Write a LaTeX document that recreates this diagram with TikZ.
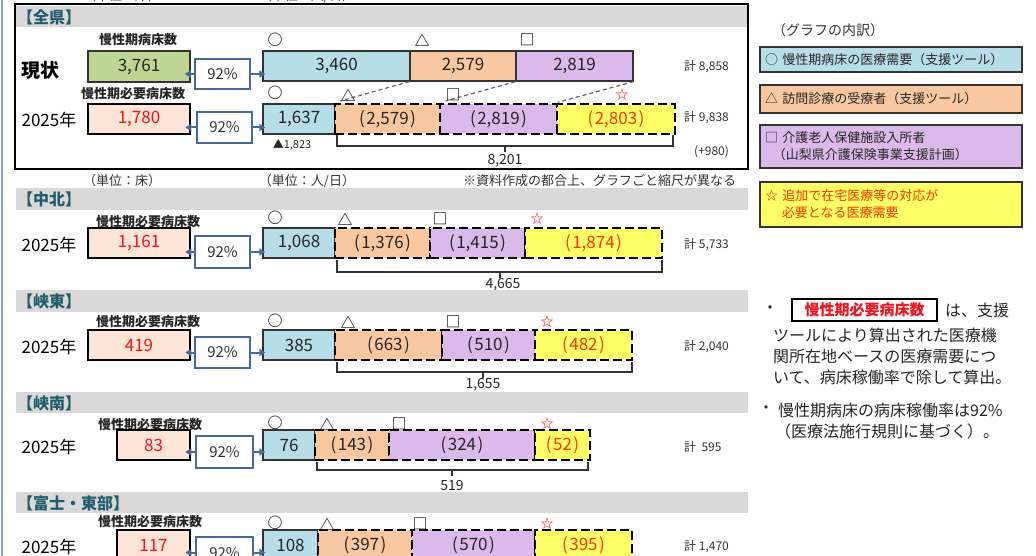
\documentclass[tikz,border=0pt]{standalone}
\usepackage{fontspec}
\setmainfont{Noto Sans CJK JP}
\usetikzlibrary{arrows.meta,calc}
\definecolor{cgreen}{HTML}{BFD592}
\definecolor{cblue}{HTML}{B7DDE8}
\definecolor{corange}{HTML}{FAC8A0}
\definecolor{cpurple}{HTML}{DBB9EA}
\definecolor{cyellow}{HTML}{FFFF66}
\definecolor{cpink}{HTML}{FCE4D6}
\definecolor{cband}{HTML}{D9D9D9}
\definecolor{cframe}{HTML}{44699C}
\definecolor{cteal}{HTML}{215E6B}
\definecolor{cred}{HTML}{F0141E}
\definecolor{cored}{HTML}{FF3300}
\definecolor{cedge}{HTML}{8FA3BF}
\newcommand\fsz[2][0]{\fontsize{#2}{#2}\selectfont}
\newcommand\bx[7]{%
 \pgfmathsetmacro\bxX{(#3+#5)/2}\pgfmathsetmacro\bxY{(#4+#6)/2}%
 \pgfmathsetmacro\bxW{#5-#3}\pgfmathsetmacro\bxH{#6-#4}%
 \node[inner sep=0pt, minimum width=\bxW pt, minimum height=\bxH pt, #2] (#1) at (\bxX,\bxY) {#7};}
\newcommand\brc[6]{\draw[brc] (#1,#3) -- (#1,#4) -- (#2,#4) -- (#2,#3); \draw[brc] (#5,#4) -- (#5,#6);}
\newcommand\pp[1]{(\kern1.5pt#1\kern1.5pt)}
\begin{document}
\begin{tikzpicture}[x=1pt,y=-1pt,
  every node/.style={inner sep=0pt},
  lab/.style={font=\fsz{13}\bfseries, text=black!85},
  num/.style={font=\fsz{17}, text=black!85},
  yr/.style={font=\fsz{17}, text=black},
  hdr/.style={font=\fsz{16}\bfseries, text=cteal, anchor=west},
  sym/.style={font=\fsz{15}\bfseries, text=black!85},
  star/.style={font=\fsz{13}, text=red},
  tot/.style={font=\fsz{12}, anchor=west, text=black!80},
  unit/.style={font=\fsz{13}, text=black!80},
  sbox/.style={draw=black!80, line width=1.3pt, num},
  dbox/.style={draw=black, line width=2.4pt, dash pattern=on 9pt off 4pt, num},
  kbox/.style={draw=black, line width=2.6pt, fill=cpink, font=\fsz{17}, text=cred},
  pbox/.style={draw=cframe, line width=1.8pt, fill=white, font=\fsz{15}, text=black!80},
  arr/.style={-{Triangle[length=6pt,width=7pt]}, draw=cframe, line width=2pt},
  brc/.style={draw=black!80, line width=1.4pt},
  dl/.style={draw=black!60, line width=1.2pt, dash pattern=on 4pt off 3pt, shorten >=7pt},
  lgd/.style={draw=black!80, line width=1.5pt, align=left, font=\fontsize{13}{17}\selectfont, inner xsep=5pt, text width=252pt, text=black!85},
  note/.style={font=\fsz{16}, anchor=west, text=black!85}]
\useasboundingbox (0,0) rectangle (1036,556);
\fill[white] (0,0) rectangle (1036,556);
\draw[cedge, line width=2.5pt] (2,0) -- (2,556);
% top clipped units
\node[unit] (u0) at (122,-4) {（単位：床）};
\node[unit] (u00) at (307,-4) {（単位：人/日）};
% ===== 全県 =====
\fill[cband] (16,6) rectangle (747,27);
\draw[line width=2.5pt] (15,4) rectangle (748,169);
\node[hdr] (h0) at (17,17) {【全県】};
\node[font=\fsz{19}\bfseries] (t0) at (40,70) {現状};
\node[yr] (t1) at (49,120) {2025年};
\node[lab] (l0) at (138,40) {慢性期病床数};
\node[lab] (l1) at (133,94) {慢性期必要病床数};
\bx{g1}{draw=black!80, line width=1.5pt, fill=cgreen, num}{88}{51}{190}{82}{3,761}
\bx{b1}{sbox, fill=cblue}{263}{51}{410}{81}{3,460}
\bx{o1}{sbox, fill=corange}{410}{51}{516}{81}{2,579}
\bx{u1}{sbox, fill=cpurple}{516}{51}{633}{81}{2,819}
\bx{p1}{pbox}{195}{59}{250}{89}{92\%}
\draw[arr, shorten >=-6pt] (p1.west) -- (g1.east |- p1.west);
\draw[arr, shorten >=-3pt] (p1.east) -- (b1.west |- p1.east);
\node[sym] (s1) at (275,40) {○};
\node[sym] (s2) at (422,40) {△};
\node[sym] (s3) at (527,40) {□};
\bx{k2}{kbox}{88}{104}{190}{134}{1,780}
\bx{b2}{sbox, fill=cblue}{263}{104}{335}{134}{1,637}
\bx{o2}{dbox, fill=corange}{335}{104}{440}{134}{\pp{2,579}}
\bx{u2}{dbox, fill=cpurple}{440}{104}{557}{134}{\pp{2,819}}
\bx{y2}{dbox, fill=cyellow, text=cored}{557}{104}{675}{134}{\pp{2,803}}
\bx{p2}{pbox}{197}{112}{252}{143}{92\%}
\draw[arr, shorten >=-6pt] (p2.west) -- (k2.east |- p2.west);
\draw[arr, shorten >=-3pt] (p2.east) -- (b2.west |- p2.east);
\draw[dl] (o1.south west) -- (o2.north west);
\draw[dl] (u1.south west) -- (u2.north west);
\draw[dl, shorten >=2pt] (u1.south east) -- (y2.north west);
\node[sym] (s4) at (275,93) {○};
\node[sym] (s5) at (348,95) {△};
\node[sym] (s6) at (453,95) {□};
\node[star] (s7) at (622,95) {☆};
\node[font=\fsz{11}, text=black!85] (tri) at (292,145) {▲1,823};
\brc{337}{673}{135}{146}{505}{152}
\node[font=\fsz{14}, text=black!85] (n1) at (505,161) {8,201};
\node[tot] (k1) at (684,67) {計 8,858};
\node[tot] (k2t) at (684,118) {計 9,838};
\node[tot] (k3) at (694,152) {(+980)};
\node[unit] (u1t) at (122,181) {（単位：床）};
\node[unit] (u2t) at (307,181) {（単位：人/日）};
\node[unit, anchor=west] (u3t) at (463,181) {※資料作成の都合上、グラフごと縮尺が異なる};
% ===== 中北 =====
\fill[cband] (16,188) rectangle (748,210);
\node[hdr] (h1) at (17,199) {【中北】};
\node[lab] (l2) at (148,222) {慢性期必要病床数};
\node[yr] (t2) at (49,245) {2025年};
\bx{k3b}{kbox}{88}{228}{190}{258}{1,161}
\bx{b3}{sbox, fill=cblue}{263}{228}{335}{258}{1,068}
\bx{o3}{dbox, fill=corange}{335}{228}{430}{258}{\pp{1,376}}
\bx{u3}{dbox, fill=cpurple}{430}{228}{525}{258}{\pp{1,415}}
\bx{y3}{dbox, fill=cyellow, text=cored}{525}{228}{662}{258}{\pp{1,874}}
\bx{p3}{pbox}{195}{236}{250}{268}{92\%}
\draw[arr, shorten >=-6pt] (p3.west) -- (k3b.east |- p3.west);
\draw[arr, shorten >=-3pt] (p3.east) -- (b3.west |- p3.east);
\node[sym] (s8) at (275,218) {○};
\node[sym] (s9) at (345,219) {△};
\node[sym] (s10) at (440,219) {□};
\node[star] (s11) at (537,219) {☆};
\brc{337}{662}{260}{272}{500}{278}
\node[font=\fsz{14}, text=black!85] (n2) at (503,285) {4,665};
\node[tot] (k4) at (684,245) {計 5,733};
% ===== 峡東 =====
\fill[cband] (16,290) rectangle (748,312);
\node[hdr] (h2) at (17,301) {【峡東】};
\node[lab] (l3) at (148,322) {慢性期必要病床数};
\node[yr] (t3) at (49,347) {2025年};
\bx{k4b}{kbox}{88}{330}{190}{360}{419}
\bx{b4}{sbox, fill=cblue}{263}{330}{335}{360}{385}
\bx{o4}{dbox, fill=corange}{335}{330}{442}{360}{\pp{663}}
\bx{u4}{dbox, fill=cpurple}{442}{330}{535}{360}{\pp{510}}
\bx{y4}{dbox, fill=cyellow, text=cored}{535}{330}{632}{360}{\pp{482}}
\bx{p4}{pbox}{195}{337}{250}{368}{92\%}
\draw[arr, shorten >=-6pt] (p4.west) -- (k4b.east |- p4.west);
\draw[arr, shorten >=-3pt] (p4.east) -- (b4.west |- p4.east);
\node[sym] (s12) at (275,321) {○};
\node[sym] (s13) at (348,322) {△};
\node[sym] (s14) at (453,322) {□};
\node[star] (s15) at (547,322) {☆};
\brc{337}{632}{362}{372}{483}{378}
\node[font=\fsz{14}, text=black!85] (n3) at (483,385) {1,655};
\node[tot] (k5) at (684,347) {計 2,040};
% ===== 峡南 =====
\fill[cband] (16,392) rectangle (748,413);
\node[hdr] (h3) at (17,403) {【峡南】};
\node[lab] (l4) at (150,425) {慢性期必要病床数};
\node[yr] (t4) at (49,447) {2025年};
\bx{k5b}{kbox}{117}{430}{190}{460}{83}
\bx{b5}{sbox, fill=cblue}{263}{430}{315}{460}{76}
\bx{o5}{dbox, fill=corange}{315}{430}{389}{460}{\pp{143}}
\bx{u5}{dbox, fill=cpurple}{389}{430}{535}{460}{\pp{324}}
\bx{y5}{dbox, fill=cyellow, text=cored}{535}{430}{590}{460}{\pp{52}}
\bx{p5}{pbox}{196}{436}{253}{468}{92\%}
\draw[arr, shorten >=-6pt] (p5.west) -- (k5b.east |- p5.west);
\draw[arr, shorten >=-3pt] (p5.east) -- (b5.west |- p5.east);
\node[sym] (s16) at (275,423) {○};
\node[sym] (s17) at (327,424) {△};
\node[sym] (s18) at (399,424) {□};
\node[star] (s19) at (547,424) {☆};
\brc{317}{588}{462}{470}{452}{476}
\node[font=\fsz{14}, text=black!85] (n4) at (452,486) {519};
\node[tot] (k6) at (684,447) {計\ \ 595};
% ===== 富士・東部 =====
\fill[cband] (16,492) rectangle (748,513);
\node[hdr] (h4) at (17,503) {【富士・東部】};
\node[lab] (l5) at (150,522) {慢性期必要病床数};
\node[yr] (t5) at (49,547) {2025年};
\bx{k6b}{kbox}{117}{530}{190}{560}{117}
\bx{b6}{sbox, fill=cblue}{263}{530}{318}{560}{108}
\bx{o6}{dbox, fill=corange}{318}{530}{412}{560}{\pp{397}}
\bx{u6}{dbox, fill=cpurple}{412}{530}{535}{560}{\pp{570}}
\bx{y6}{dbox, fill=cyellow, text=cored}{535}{530}{632}{560}{\pp{395}}
\bx{p6}{pbox}{196}{537}{253}{568}{92\%}
\draw[arr, shorten >=-6pt] (p6.west) -- (k6b.east |- p6.west);
\draw[arr, shorten >=-3pt] (p6.east) -- (b6.west |- p6.east);
\node[sym] (s20) at (275,523) {○};
\node[sym] (s21) at (327,524) {△};
\node[sym] (s22) at (420,524) {□};
\node[star] (s23) at (547,524) {☆};
\node[tot] (k7) at (684,547) {計 1,470};
% ===== legend =====
\node[unit, anchor=west, font=\fsz{14}] (lg0) at (772,30) {（グラフの内訳）};
\bx{lg1}{lgd, fill=cblue}{760}{47}{1022}{72}{○ 慢性期病床の医療需要（支援ツール）}
\bx{lg2}{lgd, fill=corange}{760}{85}{1022}{113}{△ 訪問診療の受療者（支援ツール）}
\bx{lg3}{lgd, fill=cpurple}{760}{125}{1022}{168}{□ 介護老人保健施設入所者\\\hspace{0.6em}（山梨県介護保険事業支援計画）}
\bx{lg4}{lgd, fill=cyellow, text=cored}{760}{182}{1022}{227}{☆ 追加で在宅医療等の対応が\\\hspace{1.3em}必要となる医療需要}
% ===== notes =====
\node[note] (nb0) at (762,310) {・};
\bx{nb}{draw=black, line width=2pt, fill=white, text=cred, font=\fsz{15}\bfseries}{792}{299}{937}{321}{慢性期必要病床数}
\node[note] (nt0) at (945,310) {は、支援};
\node[note] (nt1) at (773,335) {ツールにより算出された医療機};
\node[note] (nt2) at (773,356) {関所在地ベースの医療需要につ};
\node[note] (nt3) at (773,377) {いて、病床稼働率で除して算出。};
\node[note] (nb1) at (758,410) {・};
\node[note] (nt4) at (778,410) {慢性期病床の病床稼働率は92\%};
\node[note] (nt5) at (775,431) {（医療法施行規則に基づく）。};
\end{tikzpicture}
\end{document}
